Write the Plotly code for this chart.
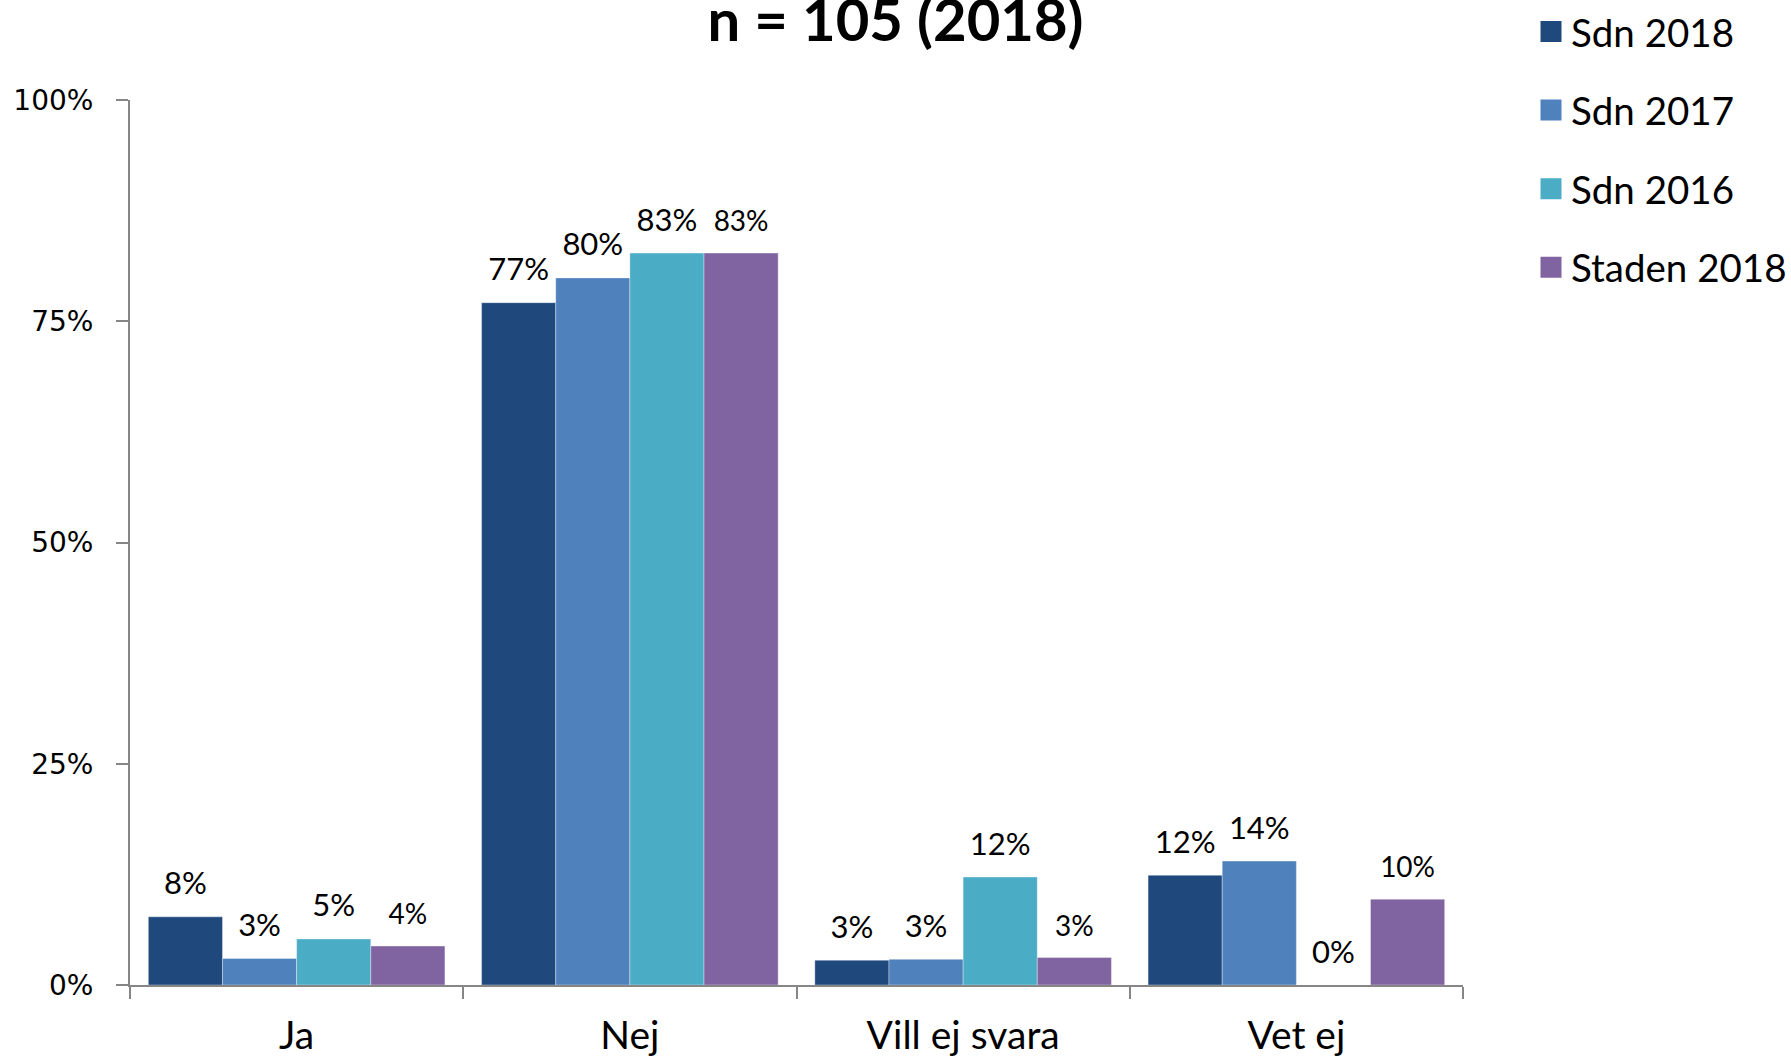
import plotly.graph_objects as go

categories = ["Ja", "Nej", "Vill ej svara", "Vet ej"]
series_names = ["Sdn 2018", "Sdn 2017", "Sdn 2016", "Staden 2018"]
sdn_2018 = [0.077, 0.771, 0.028, 0.124]
sdn_2017 = [0.030, 0.799, 0.029, 0.140]
sdn_2016 = [0.052, 0.827, 0.122, 0.0]
staden_2018 = [0.044, 0.827, 0.031, 0.097]
series_values = [sdn_2018, sdn_2017, sdn_2016, staden_2018]
y_tick_values = [0, 0.25, 0.5, 0.75, 1.0]
title_text = "n = 105 (2018)"

colors = ["#1F497D", "#4F81BD", "#4BACC6", "#8064A2"]
label_sizes = [31, 31, 31, 28]
GAP = 0.11

fig = go.Figure()
for name, vals, col in zip(series_names, series_values, colors):
    fig.add_trace(go.Bar(
        x=categories, y=vals, name=name, showlegend=False,
        marker=dict(color=col, line=dict(color="rgba(255,255,255,0.35)", width=1)),
        hoverinfo="skip",
    ))
# value labels, placed over each bar through the same grouping
for name, vals, col, fs in zip(series_names, series_values, colors, label_sizes):
    fig.add_trace(go.Scatter(
        x=categories, y=vals, mode="markers+text", orientation="v",
        offsetgroup=name, alignmentgroup="labels",
        marker=dict(size=22, opacity=0), showlegend=False,
        texttemplate="%{y:.0%}", textposition="top center",
        textfont=dict(family="Lato", size=fs, color="black"),
        hoverinfo="skip", cliponaxis=False,
    ))
# legend entries (square swatches)
for name, col in zip(series_names, colors):
    fig.add_trace(go.Scatter(
        x=[None], y=[None], mode="markers", name=name, legendgroup=name,
        marker=dict(symbol="square", size=16, color=col, line=dict(color=col, width=5)),
        hoverinfo="skip",
    ))

fig.update_layout(
    width=1791, height=1062,
    margin=dict(l=130, r=328, t=100, b=77),
    paper_bgcolor="white", plot_bgcolor="white",
    barmode="group", bargap=GAP, bargroupgap=0,
    scattermode="group", scattergap=GAP,
    title=dict(text="<b>" + title_text + "</b>", x=0.5, xanchor="center",
               yref="container", y=1.0, yanchor="top",
               font=dict(family="Lato", size=58, color="black")),
    legend=dict(xref="container", yref="container",
                x=1531 / 1791, xanchor="left", y=1.0, yanchor="top",
                font=dict(family="Lato", size=38.5, color="black"),
                tracegroupgap=25.5, bgcolor="rgba(0,0,0,0)"),
    showlegend=True,
)
fig.update_xaxes(
    type="category", automargin=False, showgrid=False, showline=True,
    linecolor="#868686", linewidth=2,
    ticks="outside", tickson="boundaries", ticklen=12, tickcolor="#868686", tickwidth=2,
    tickfont=dict(family="Lato", size=39, color="black"), ticklabelstandoff=15,
)
fig.update_yaxes(
    range=[0, 1], automargin=False, tickvals=y_tick_values, tickformat=".0%",
    showgrid=False, zeroline=False, showline=True, linecolor="#868686", linewidth=2,
    ticks="outside", ticklen=12, tickcolor="#868686", tickwidth=2,
    tickfont=dict(family="DejaVu Sans", size=28, color="black"), ticklabelstandoff=17,
)

fig.write_html("out.html", config={"displayModeBar": False},
               post_script="document.body.style.margin='0';")
